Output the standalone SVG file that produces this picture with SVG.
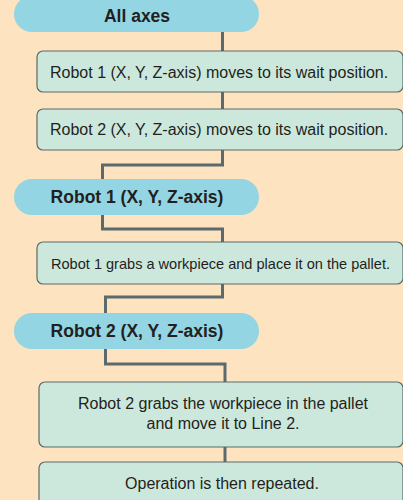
<svg xmlns="http://www.w3.org/2000/svg" width="403" height="500" viewBox="0 0 403 500">
<style>
.pill{fill:#93d5e3;}
.box{fill:#cce8dc;stroke:#5b6a6d;stroke-width:1.2;}
.ptxt{font-family:"Liberation Sans",Arial,sans-serif;font-weight:bold;font-size:17.5px;fill:#231f20;text-anchor:middle;}
.btxt{font-family:"Liberation Sans",Arial,sans-serif;font-size:16px;fill:#231f20;}
.ctxt{font-family:"Liberation Sans",Arial,sans-serif;font-size:16px;fill:#231f20;text-anchor:middle;}
.conn{fill:none;stroke:#5b6a6d;stroke-width:3;}
</style>
<rect x="0" y="0" width="403" height="500" fill="#fde3bf"/>
<g id="connectors">
<path class="conn" d="M222.5 32 V51"/>
<path class="conn" d="M222.5 92 V109"/>
<path class="conn" d="M222.5 150 V165 H102.5 V179"/>
<path class="conn" d="M102.5 215 V229 H222.5 V242"/>
<path class="conn" d="M222.5 284 V297 H105.5 V313"/>
<path class="conn" d="M105.5 349 V364 H225 V382"/>
<path class="conn" d="M225 447 V462"/>
</g>
<g id="all-axes">
<rect class="pill" x="14" y="-4" width="245" height="36" rx="18"/>
<text class="ptxt" x="137" y="22">All axes</text>
</g>
<g id="step1">
<rect class="box" x="37" y="51" width="366" height="41" rx="6"/>
<text class="btxt" x="50" y="78">Robot 1 (X, Y, Z-axis) moves to its wait position.</text>
</g>
<g id="step2">
<rect class="box" x="37" y="109" width="366" height="41" rx="6"/>
<text class="btxt" x="50" y="135">Robot 2 (X, Y, Z-axis) moves to its wait position.</text>
</g>
<g id="robot1">
<rect class="pill" x="14" y="179" width="245" height="36" rx="18"/>
<text class="ptxt" x="137" y="203">Robot 1 (X, Y, Z-axis)</text>
</g>
<g id="step3">
<rect class="box" x="37" y="242" width="366" height="42" rx="6"/>
<text class="btxt" x="51" y="269" style="font-size:14.6px" textLength="339" lengthAdjust="spacingAndGlyphs">Robot 1 grabs a workpiece and place it on the pallet.</text>
</g>
<g id="robot2">
<rect class="pill" x="14" y="313" width="245" height="36" rx="18"/>
<text class="ptxt" x="137" y="337">Robot 2 (X, Y, Z-axis)</text>
</g>
<g id="step4">
<rect class="box" x="39" y="382" width="364" height="65" rx="6"/>
<text class="ctxt" x="223" y="409">Robot 2 grabs the workpiece in the pallet</text>
<text class="ctxt" x="223" y="429">and move it to Line 2.</text>
</g>
<g id="step5">
<rect class="box" x="39" y="462" width="364" height="50" rx="6"/>
<text class="ctxt" x="222" y="489">Operation is then repeated.</text>
</g>
</svg>
